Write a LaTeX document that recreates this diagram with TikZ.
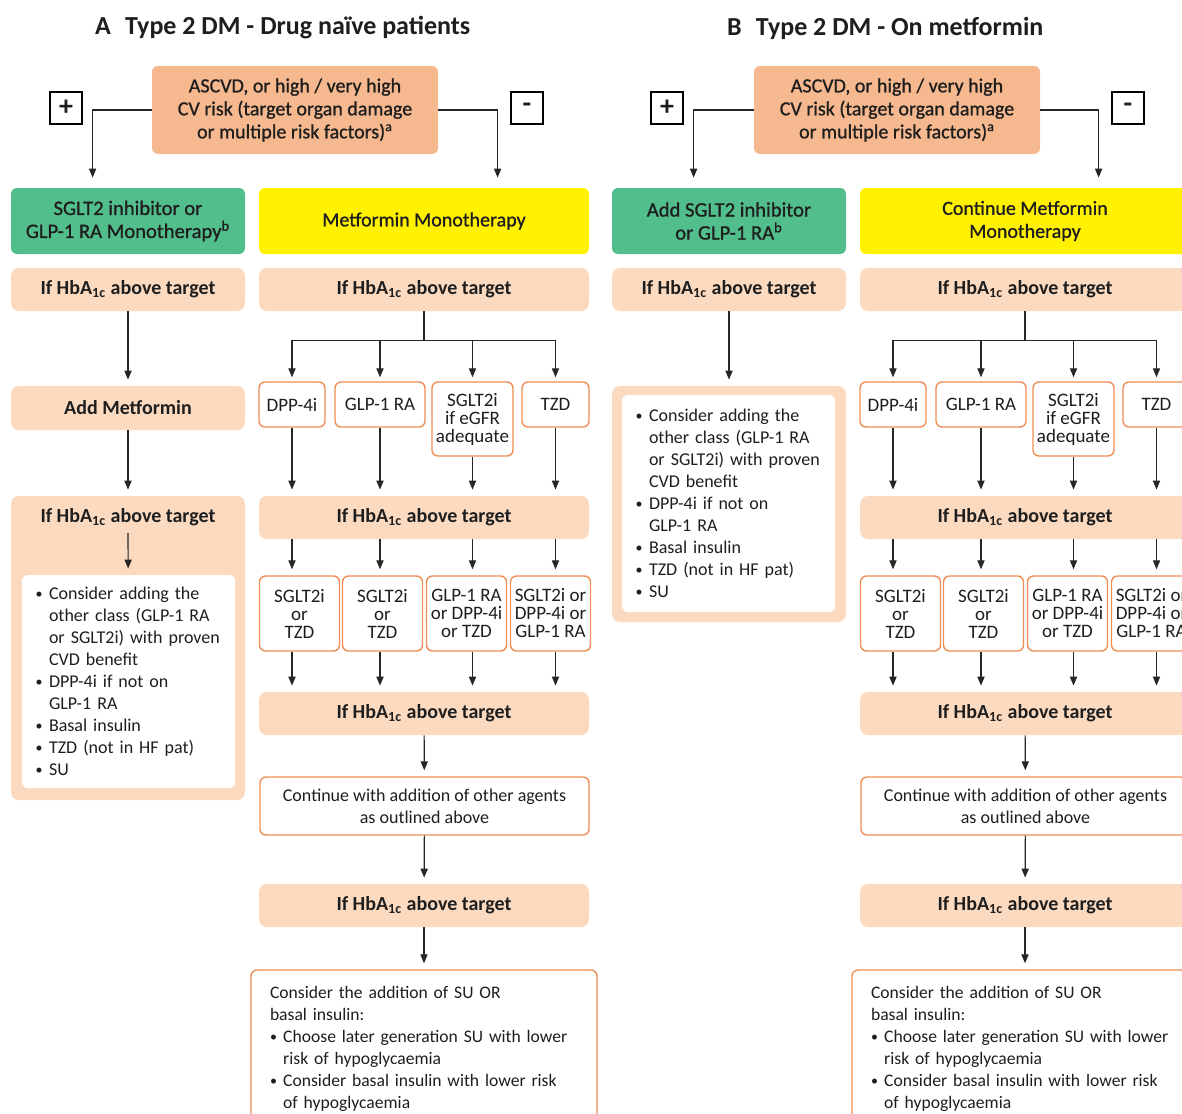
\documentclass[tikz,border=0pt]{standalone}
\usepackage{fontspec}
\setmainfont{Carlito}
\newfontfamily\medfont{Carlito}[FakeBold=0.9]
\usetikzlibrary{arrows.meta}
\newlength\px
\setlength\px{0.5pt}
\definecolor{riskfill}{HTML}{F6B88E}
\definecolor{peach}{HTML}{FCDAC0}
\definecolor{sglgreen}{HTML}{52BE8C}
\definecolor{metyellow}{HTML}{FFF100}
\definecolor{optorange}{HTML}{EF8D55}
\definecolor{ink}{HTML}{1E1E1E}
\newcommand{\bul}{\makebox[0.75em][l]{\raisebox{0.12ex}{\scriptsize\textbullet}}}
\newcommand{\bulind}{\hspace*{0.75em}}
\newcommand{\hba}{If HbA\textsubscript{1c} above target}
\begin{document}
\begin{tikzpicture}[x=\px, y=-\px, every node/.style={text=ink}]
  \tikzset{
    paneltitle/.style={anchor=west, font=\fontsize{13}{15}\selectfont\bfseries},
    riskbox/.style={rectangle, rounded corners=3pt, fill=riskfill, align=center, minimum width=286\px, minimum height=88\px, font=\fontsize{10}{11.5}\selectfont\medfont},
    signbox/.style={rectangle, draw=black, line width=0.8pt, fill=white, minimum size=32\px, inner sep=0pt, font=\fontsize{14}{14}\selectfont\bfseries},
    greenbox/.style={rectangle, rounded corners=3pt, fill=sglgreen, align=center, minimum width=234\px, minimum height=66\px, font=\fontsize{10.3}{11.5}\selectfont\medfont},
    yellowbox/.style={rectangle, rounded corners=3pt, fill=metyellow, align=center, minimum width=330\px, minimum height=66\px, font=\fontsize{10}{11.5}\selectfont\medfont},
    hbabox/.style={rectangle, rounded corners=4pt, fill=peach, minimum height=43\px, font=\fontsize{10}{12}\selectfont\bfseries},
    peachpanel/.style={rectangle, rounded corners=4pt, fill=peach, minimum width=234\px},
    bulletbox/.style={rectangle, rounded corners=3pt, fill=white, text width=186\px, align=left, minimum width=213\px, font=\fontsize{9}{11}\selectfont},
    optbox/.style={rectangle, rounded corners=3pt, draw=optorange, line width=0.7pt, fill=white, align=center, inner sep=1pt, minimum height=45\px, font=\fontsize{9.5}{9}\selectfont},
    notebox/.style={rectangle, rounded corners=3pt, draw=optorange, line width=0.7pt, fill=white, font=\fontsize{9}{11}\selectfont},
    flowline/.style={line width=0.6pt, draw=black!85},
    flowarrow/.style={flowline, -{Triangle[length=4.5pt,width=3.6pt]}, shorten >=3pt}
  }
  \useasboundingbox (0,0) rectangle (1182,1113);
  \clip (0,0) rectangle (1182,1113);

  % A: drug naive
  \node[paneltitle] (titleA) at (88,28) {A\hspace{0.55em}Type 2 DM - Drug naïve patients};
  \node[riskbox] (riskA) at (295,110) {ASCVD, or high / very high\\CV risk (target organ damage\\or multiple risk factors)\textsuperscript{a}};
  \node[signbox] (plusA) at (66,108) {+};
  \node[signbox] (minusA) at (527,108) {-};
  \node[greenbox] (greenA) at (128,221) {SGLT2 inhibitor or\\GLP-1 RA Monotherapy\textsuperscript{b}};
  \node[yellowbox] (yellowA) at (424,221) {Metformin Monotherapy};
  \draw[flowarrow, shorten >=10\px] (riskA.west) -| ([xshift=82\px]greenA.north west);
  \draw[flowarrow, shorten >=10\px] (riskA.east) -| ([xshift=239\px]yellowA.north west);

  \node[hbabox, minimum width=234\px] (hbaAL) at (128,289.5) {\hba};
  \node[hbabox, minimum width=234\px, minimum height=44\px] (metA) at (128,408) {Add Metformin};
  \node[peachpanel, minimum height=304\px] (panelA) at (128,648) {};
  \node[font=\fontsize{10}{12}\selectfont\bfseries] (headA) at (128,517) {\hba};
  \node[bulletbox, minimum height=213\px] (listA) at (128.5,681.5) {\bul Consider adding the\\\bulind other class (GLP-1 RA\\\bulind or SGLT2i) with proven\\\bulind CVD benefit\\\bul DPP-4i if not on\\\bulind GLP-1 RA\\\bul Basal insulin\\\bul TZD (not in HF pat)\\\bul SU};
  \draw[flowarrow] (hbaAL) -- (metA);
  \draw[flowarrow] (metA) -- (panelA);
  \draw[flowarrow] (headA) -- (listA);

  \node[hbabox, minimum width=330\px] (hbaA1) at (424,289.5) {\hba};
  \node[optbox, minimum width=66\px] (dppA) at (292,404.5) {DPP-4i};
  \node[optbox, minimum width=90\px] (glpA) at (380,404.5) {GLP-1 RA};
  \node[optbox, minimum width=81\px, minimum height=74\px] (sglA) at (472.5,419) {SGLT2i\\if eGFR\\adequate};
  \node[optbox, minimum width=67\px] (tzdA) at (555.5,404.5) {TZD};
  \node[hbabox, minimum width=330\px] (hbaA2) at (424,517.5) {\hba};
  \node[optbox, minimum width=80\px, minimum height=75\px] (addA1) at (299.5,613.5) {SGLT2i\\or\\TZD};
  \node[optbox, minimum width=80\px, minimum height=75\px] (addA2) at (382.5,613.5) {SGLT2i\\or\\TZD};
  \node[optbox, minimum width=80\px, minimum height=75\px] (addA3) at (466.5,613.5) {GLP-1 RA\\or DPP-4i\\or TZD};
  \node[optbox, minimum width=80\px, minimum height=75\px] (addA4) at (550.5,613.5) {SGLT2i or\\DPP-4i or\\GLP-1 RA};
  \node[hbabox, minimum width=330\px] (hbaA3) at (424,713.5) {\hba};
  \node[notebox, align=center, minimum width=329\px, minimum height=58\px] (contA) at (424.5,806) {Continue with addition of other agents\\as outlined above};
  \node[hbabox, minimum width=330\px] (hbaA4) at (424,905.5) {\hba};
  \node[notebox, align=left, text width=308\px, minimum width=346\px, minimum height=158\px, font=\fontsize{8.8}{11}\selectfont] (finA) at (424,1049) {Consider the addition of SU OR\\basal insulin:\\\bul Choose later generation SU with lower\\\bulind risk of hypoglycaemia\\\bul Consider basal insulin with lower risk\\\bulind of hypoglycaemia};

  \draw[flowline] (hbaA1.south) -- ++(0,29) coordinate (forkA);
  \foreach \opt in {dppA,glpA,sglA,tzdA}
    \draw[flowarrow, shorten >=2pt] (forkA) -| (\opt.north);
  \foreach \opt/\add in {dppA/addA1,glpA/addA2,sglA/addA3,tzdA/addA4} {
    \draw[flowarrow] (\opt.south) -- (\opt.south |- hbaA2.north);
    \draw[flowarrow] (\opt.south |- hbaA2.south) -- (\opt.south |- \add.north);
    \draw[flowarrow] (\opt.south |- \add.south) -- (\opt.south |- hbaA3.north);
  }
  \draw[flowarrow] (hbaA3) -- (contA);
  \draw[flowarrow] (contA) -- (hbaA4);
  \draw[flowarrow] (hbaA4) -- (finA);

  % B: on metformin
  \begin{scope}[xshift=601\px]
  \node[paneltitle] (titleB) at (119,28) {B\hspace{0.55em}Type 2 DM - On metformin};
  \node[riskbox] (riskB) at (296,110) {ASCVD, or high / very high\\CV risk (target organ damage\\or multiple risk factors)\textsuperscript{a}};
  \node[signbox] (plusB) at (66,108) {+};
  \node[signbox] (minusB) at (527,108) {-};
  \node[greenbox] (greenB) at (128,221) {Add SGLT2 inhibitor\\or GLP-1 RA\textsuperscript{b}};
  \node[yellowbox] (yellowB) at (424,221) {Continue Metformin\\Monotherapy};
  \draw[flowarrow, shorten >=10\px] (riskB.west) -| ([xshift=82\px]greenB.north west);
  \draw[flowarrow, shorten >=10\px] (riskB.east) -| ([xshift=239\px]yellowB.north west);

  \node[hbabox, minimum width=234\px] (hbaBL) at (128,289.5) {\hba};
  \node[peachpanel, minimum height=236\px] (panelB) at (128,504) {};
  \node[bulletbox, minimum height=217\px] (listB) at (127.5,503.5) {\bul Consider adding the\\\bulind other class (GLP-1 RA\\\bulind or SGLT2i) with proven\\\bulind CVD benefit\\\bul DPP-4i if not on\\\bulind GLP-1 RA\\\bul Basal insulin\\\bul TZD (not in HF pat)\\\bul SU};
  \draw[flowarrow] (hbaBL) -- (panelB);

  \node[hbabox, minimum width=330\px] (hbaB1) at (424,289.5) {\hba};
  \node[optbox, minimum width=66\px] (dppB) at (292,404.5) {DPP-4i};
  \node[optbox, minimum width=90\px] (glpB) at (380,404.5) {GLP-1 RA};
  \node[optbox, minimum width=81\px, minimum height=74\px] (sglB) at (472.5,419) {SGLT2i\\if eGFR\\adequate};
  \node[optbox, minimum width=67\px] (tzdB) at (555.5,404.5) {TZD};
  \node[hbabox, minimum width=330\px] (hbaB2) at (424,517.5) {\hba};
  \node[optbox, minimum width=80\px, minimum height=75\px] (addB1) at (299.5,613.5) {SGLT2i\\or\\TZD};
  \node[optbox, minimum width=80\px, minimum height=75\px] (addB2) at (382.5,613.5) {SGLT2i\\or\\TZD};
  \node[optbox, minimum width=80\px, minimum height=75\px] (addB3) at (466.5,613.5) {GLP-1 RA\\or DPP-4i\\or TZD};
  \node[optbox, minimum width=80\px, minimum height=75\px] (addB4) at (550.5,613.5) {SGLT2i or\\DPP-4i or\\GLP-1 RA};
  \node[hbabox, minimum width=330\px] (hbaB3) at (424,713.5) {\hba};
  \node[notebox, align=center, minimum width=329\px, minimum height=58\px] (contB) at (424.5,806) {Continue with addition of other agents\\as outlined above};
  \node[hbabox, minimum width=330\px] (hbaB4) at (424,905.5) {\hba};
  \node[notebox, align=left, text width=308\px, minimum width=346\px, minimum height=158\px, font=\fontsize{8.8}{11}\selectfont] (finB) at (424,1049) {Consider the addition of SU OR\\basal insulin:\\\bul Choose later generation SU with lower\\\bulind risk of hypoglycaemia\\\bul Consider basal insulin with lower risk\\\bulind of hypoglycaemia};

  \draw[flowline] (hbaB1.south) -- ++(0,29) coordinate (forkB);
  \foreach \opt in {dppB,glpB,sglB,tzdB}
    \draw[flowarrow, shorten >=2pt] (forkB) -| (\opt.north);
  \foreach \opt/\add in {dppB/addB1,glpB/addB2,sglB/addB3,tzdB/addB4} {
    \draw[flowarrow] (\opt.south) -- (\opt.south |- hbaB2.north);
    \draw[flowarrow] (\opt.south |- hbaB2.south) -- (\opt.south |- \add.north);
    \draw[flowarrow] (\opt.south |- \add.south) -- (\opt.south |- hbaB3.north);
  }
  \draw[flowarrow] (hbaB3) -- (contB);
  \draw[flowarrow] (contB) -- (hbaB4);
  \draw[flowarrow] (hbaB4) -- (finB);
  \end{scope}
\end{tikzpicture}
\end{document}
